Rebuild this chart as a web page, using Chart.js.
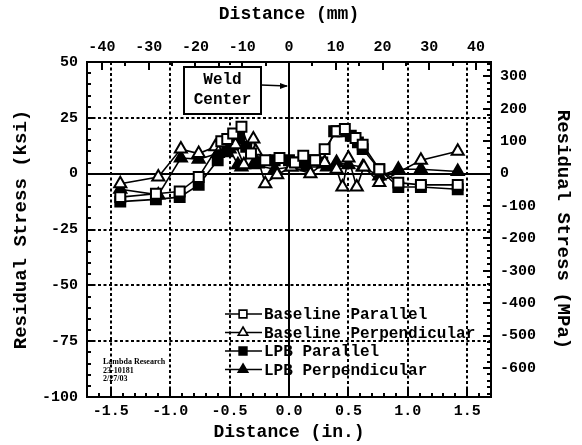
<!DOCTYPE html>
<html>
<head>
<meta charset="utf-8">
<script src="https://cdn.jsdelivr.net/npm/chart.js@4"></script>
<style>
  html, body { margin: 0; padding: 0; background: #fff; }
</style>
</head>
<body>
<canvas id="graph" width="582" height="445"></canvas>
<script>
// unit conversions for the twin axes
const MM_PER_IN = 25.4;
const MPA_PER_KSI = 6.895;
const X_MIN = -1.7, X_MAX = 1.7;
const Y_MIN = -100, Y_MAX = 50;

const inchTicks = [-1.5, -1.0, -0.5, 0.0, 0.5, 1.0, 1.5];
const mmTicks = [-40, -30, -20, -10, 0, 10, 20, 30, 40];
const ksiTicks = [50, 25, 0, -25, -50, -75, -100];
const mpaTicks = [300, 200, 100, 0, -100, -200, -300, -400, -500, -600];

const seriesNames = ['Baseline Parallel', 'Baseline Perpendicular', 'LPB Parallel', 'LPB Perpendicular'];

// distance (in.) / residual stress (ksi)
const basePar_x = [-1.42, -1.12, -0.92, -0.76, -0.57, -0.52, -0.47, -0.40, -0.32, -0.20, -0.08, 0.05, 0.12, 0.22, 0.30, 0.40, 0.47, 0.56, 0.62, 0.76, 0.92, 1.11, 1.42];
const basePar_y = [-10.5, -9, -8, -1.5, 14.5, 15.5, 18, 21, 9, 6, 7, 5, 8, 6, 11, 19, 20, 16, 13, 2, -4, -5, -5];

const basePerp_x = [-1.42, -1.10, -0.91, -0.76, -0.62, -0.52, -0.45, -0.38, -0.30, -0.28, -0.20, -0.10, 0.02, 0.18, 0.30, 0.40, 0.45, 0.50, 0.57, 0.63, 0.76, 1.11, 1.42];
const basePerp_y = [-4.5, -1.5, 11, 9, 12, 14, 13, 4, 15.5, 10, -4.5, -0.5, 3, 0, 5, 2, -6, 7, -6, 3, -4, 6, 10];

const lpbPar_x = [-1.42, -1.12, -0.92, -0.76, -0.60, -0.52, -0.47, -0.42, -0.36, -0.25, -0.12, 0.00, 0.10, 0.20, 0.28, 0.38, 0.45, 0.52, 0.58, 0.62, 0.76, 0.92, 1.11, 1.42];
const lpbPar_y = [-12.5, -11.5, -10.5, -5, 6, 10, 13, 16, 12, 5, 6, 6, 5, 6, 5, 19, 19, 17, 14, 11, 2, -6, -6, -7];

const lpbPerp_x = [-1.42, -1.10, -0.91, -0.76, -0.60, -0.50, -0.43, -0.40, -0.30, -0.12, 0.02, 0.15, 0.32, 0.40, 0.50, 0.62, 0.76, 0.92, 1.11, 1.42];
const lpbPerp_y = [-7, -9.5, 7, 6.5, 9, 11, 4, 3, 4, 2, 3, 3, 3, 5, 4, 3, -1, 2, 2, 1];

const FONT = '"Liberation Mono", monospace';

function pts(xs, ys) {
  return xs.map((x, i) => ({ x: x, y: ys[i] }));
}

const styles = [
  { pointStyle: 'rect', fill: '#fff', radius: 7 },
  { pointStyle: 'triangle', fill: '#fff', radius: 7 },
  { pointStyle: 'rect', fill: '#000', radius: 7 },
  { pointStyle: 'triangle', fill: '#000', radius: 7 }
];
const allData = [pts(basePar_x, basePar_y), pts(basePerp_x, basePerp_y), pts(lpbPar_x, lpbPar_y), pts(lpbPerp_x, lpbPerp_y)];

const datasets = seriesNames.map((name, i) => ({
  label: name,
  data: allData[i],
  showLine: true,
  borderColor: '#000',
  borderWidth: 1.6,
  pointStyle: styles[i].pointStyle,
  pointRadius: styles[i].radius,
  pointBackgroundColor: styles[i].fill,
  pointBorderColor: '#000',
  pointBorderWidth: 2
}));

function fixedTicks(values) {
  return s => { s.ticks = values.map(v => ({ value: v })); };
}

function range(from, to, step) {
  const out = [];
  for (let v = from; v <= to + 1e-9; v += step) out.push(Math.round(v * 1000) / 1000);
  return out;
}

const tickFont = { family: FONT, size: 15, weight: 'bold' };

const decorations = {
  id: 'decorations',
  beforeDatasetsDraw(chart) {
    const { ctx, chartArea: a, scales } = chart;
    const xs = scales.x, ys = scales.y;
    ctx.save();
    ctx.strokeStyle = '#000';
    // dotted grid
    ctx.lineWidth = 2;
    ctx.setLineDash([3, 2.5]);
    inchTicks.filter(v => v !== 0).forEach(v => {
      const px = Math.round(xs.getPixelForValue(v));
      ctx.beginPath(); ctx.moveTo(px, a.top); ctx.lineTo(px, a.bottom); ctx.stroke();
    });
    ksiTicks.filter(v => v !== 0 && v !== Y_MAX && v !== Y_MIN).forEach(v => {
      const py = Math.round(ys.getPixelForValue(v));
      ctx.beginPath(); ctx.moveTo(a.left, py); ctx.lineTo(a.right, py); ctx.stroke();
    });
    // zero lines
    ctx.setLineDash([]);
    ctx.lineWidth = 2;
    const x0 = Math.round(xs.getPixelForValue(0)), y0 = Math.round(ys.getPixelForValue(0));
    ctx.beginPath(); ctx.moveTo(x0, a.top); ctx.lineTo(x0, a.bottom); ctx.stroke();
    ctx.beginPath(); ctx.moveTo(a.left, y0); ctx.lineTo(a.right, y0); ctx.stroke();
    ctx.restore();
  },
  afterDatasetsDraw(chart) {
    const { ctx, chartArea: a, scales } = chart;
    ctx.save();
    ctx.strokeStyle = '#000';
    ctx.fillStyle = '#000';
    ctx.lineWidth = 2;
    ctx.strokeRect(a.left, a.top, a.right - a.left, a.bottom - a.top);

    // inward tick marks
    const tick = (scale, values, len, side) => {
      values.forEach(v => {
        const p = Math.round(scale.getPixelForValue(v));
        ctx.beginPath();
        if (side === 'bottom') { ctx.moveTo(p, a.bottom); ctx.lineTo(p, a.bottom - len); }
        if (side === 'top') { ctx.moveTo(p, a.top); ctx.lineTo(p, a.top + len); }
        if (side === 'left') { ctx.moveTo(a.left, p); ctx.lineTo(a.left + len, p); }
        if (side === 'right') { ctx.moveTo(a.right, p); ctx.lineTo(a.right - len, p); }
        ctx.stroke();
      });
    };
    tick(scales.x, range(-1.6, 1.6, 0.1), 4, 'bottom');
    tick(scales.x, inchTicks, 8, 'bottom');
    tick(scales.x2, range(-40, 40, 5), 4, 'top');
    tick(scales.x2, mmTicks, 8, 'top');
    tick(scales.y, range(-95, 45, 5), 4, 'left');
    tick(scales.y, ksiTicks, 8, 'left');
    tick(scales.y2, range(-680, 340, 20), 4, 'right');
    tick(scales.y2, mpaTicks, 8, 'right');

    // weld centre callout
    const x0 = scales.x.getPixelForValue(0);
    const bx = 184, by = 67, bw = 77, bh = 47;
    ctx.fillStyle = '#fff';
    ctx.fillRect(bx, by, bw, bh);
    ctx.strokeRect(bx, by, bw, bh);
    ctx.fillStyle = '#000';
    ctx.font = 'bold 16px ' + FONT;
    ctx.textAlign = 'center';
    ctx.textBaseline = 'middle';
    ctx.fillText('Weld', bx + bw / 2, by + 13);
    ctx.fillText('Center', bx + bw / 2, by + 33);
    ctx.lineWidth = 1.5;
    ctx.beginPath(); ctx.moveTo(bx + bw, 85); ctx.lineTo(x0 - 2, 86); ctx.stroke();
    ctx.beginPath(); ctx.moveTo(x0 - 1, 86); ctx.lineTo(x0 - 9, 83); ctx.lineTo(x0 - 9, 89); ctx.closePath(); ctx.fill();

    // legend inside the plot
    ctx.textAlign = 'left';
    ctx.font = 'bold 16px ' + FONT;
    seriesNames.forEach((name, i) => {
      const y = 314 + i * 18.5;
      ctx.strokeStyle = '#000';
      ctx.lineWidth = 1.6;
      ctx.beginPath(); ctx.moveTo(225, y); ctx.lineTo(262, y); ctx.stroke();
      ctx.fillStyle = styles[i].fill;
      ctx.lineWidth = 1.6;
      Chart.helpers.drawPoint(ctx, { pointStyle: styles[i].pointStyle, radius: 5.5, rotation: 0, borderWidth: 1.6 }, 243, y);
      ctx.fillStyle = '#000';
      ctx.fillText(name, 264, y + 1);
    });

    // lab stamp
    ctx.font = 'bold 8px "Liberation Serif", serif';
    ctx.textBaseline = 'middle';
    ['Lambda Research', '23-10181', '2/27/03'].forEach((t, i) => ctx.fillText(t, 103, 362 + i * 8.5));
    ctx.restore();
  }
};

const noGrid = { display: false, drawTicks: false };
const noBorder = { display: false };

const config = {
  type: 'scatter',
  data: { datasets: datasets },
  options: {
    responsive: false,
    animation: false,
    layout: { padding: 0 },
    plugins: { legend: { display: false }, tooltip: { enabled: false } },
    scales: {
      x: {
        type: 'linear', position: 'bottom', min: X_MIN, max: X_MAX,
        afterBuildTicks: fixedTicks(inchTicks),
        afterFit: s => { s.height = 48; },
        grid: noGrid, border: noBorder,
        ticks: { color: '#000', font: tickFont, padding: 5, maxRotation: 0, callback: v => v.toFixed(1) },
        title: { display: true, text: 'Distance (in.)', color: '#000', font: { family: FONT, size: 18, weight: 'bold' }, padding: { top: 0, bottom: 2 } }
      },
      x2: {
        type: 'linear', position: 'top', min: X_MIN * MM_PER_IN, max: X_MAX * MM_PER_IN,
        afterBuildTicks: fixedTicks(mmTicks),
        afterFit: s => { s.height = 62; },
        grid: noGrid, border: noBorder,
        ticks: { color: '#000', font: tickFont, padding: 6, maxRotation: 0 },
        title: { display: true, text: 'Distance (mm)', color: '#000', font: { family: FONT, size: 18, weight: 'bold' }, padding: { top: 4, bottom: 0 } }
      },
      y: {
        type: 'linear', position: 'left', min: Y_MIN, max: Y_MAX,
        afterBuildTicks: fixedTicks(ksiTicks),
        afterFit: s => { s.width = 87; },
        grid: noGrid, border: noBorder,
        ticks: { color: '#000', font: tickFont, padding: 9 },
        title: { display: true, text: 'Residual Stress (ksi)', color: '#000', font: { family: FONT, size: 19, weight: 'bold' }, padding: { top: 10, bottom: 0 } }
      },
      y2: {
        type: 'linear', position: 'right', min: Y_MIN * MPA_PER_KSI, max: Y_MAX * MPA_PER_KSI,
        afterBuildTicks: fixedTicks(mpaTicks),
        afterFit: s => { s.width = 91; },
        grid: noGrid, border: noBorder,
        ticks: { color: '#000', font: tickFont, padding: 9 },
        title: { display: true, text: 'Residual Stress (MPa)', color: '#000', font: { family: FONT, size: 19, weight: 'bold' }, padding: { top: 8, bottom: 0 } }
      }
    }
  },
  plugins: [decorations]
};

const myChart = new Chart(document.getElementById('graph'), config);
</script>
</body>
</html>
